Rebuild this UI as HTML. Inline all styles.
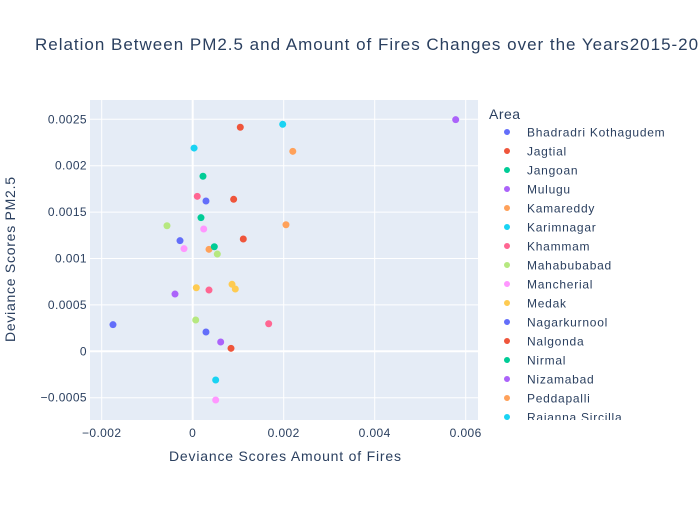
<!DOCTYPE html>
<html><head><meta charset="utf-8"><style>
body{margin:0;background:#fff;font-family:"Liberation Sans",Arial,sans-serif;}
svg text{font-family:"Liberation Sans",Arial,sans-serif;}
</style></head><body>
<svg id="chart" width="700" height="500" xmlns="http://www.w3.org/2000/svg">
<rect x="0" y="0" width="700" height="500" fill="#fff"/>
<rect x="90" y="100" width="388" height="320" fill="#e5ecf6"/>
<g id="grid"></g><g id="pts"></g><g id="ticks"></g>
<text x="35" y="50" font-size="17" fill="#2a3f5f" textLength="684" lengthAdjust="spacing">Relation Between PM2.5 and Amount of Fires Changes over the Years2015-2020</text>
<text x="169" y="461" font-size="14" fill="#2a3f5f" textLength="232" lengthAdjust="spacing">Deviance Scores Amount of Fires</text>
<text x="0" y="0" font-size="14" fill="#2a3f5f" textLength="165" lengthAdjust="spacing" transform="translate(15,342) rotate(-90)">Deviance Scores PM2.5</text>
<text x="489" y="119" font-size="14" fill="#2a3f5f" letter-spacing="0.5">Area</text>
<svg x="485" y="122" width="215" height="298"><g id="legend"></g></svg>
</svg>
<script>
const seriesNames=["Bhadradri Kothagudem","Jagtial","Jangoan","Mulugu","Kamareddy","Karimnagar","Khammam","Mahabubabad","Mancherial","Medak","Nagarkurnool","Nalgonda","Nirmal","Nizamabad","Peddapalli","Rajanna Sircilla"];
const colors=["#636efa","#EF553B","#00cc96","#ab63fa","#FFA15A","#19d3f3","#FF6692","#B6E880","#FF97FF","#FECB52"];
const xTicks=[-0.002,0,0.002,0.004,0.006];
const xTickLabels=["−0.002","0","0.002","0.004","0.006"];
const yTicks=[-0.0005,0,0.0005,0.001,0.0015,0.002,0.0025];
const yTickLabels=["−0.0005","0","0.0005","0.001","0.0015","0.002","0.0025"];
const ptX=[0.00578,0.001046,0.001978,0.00003,0.0022,0.000226,0.0001,0.000292,0.0009,0.000182,-0.000565,0.000242,0.00205,-0.000279,-0.000191,0.000358,0.000475,0.000541,0.001112,0.000079,0.000358,0.000864,0.000936,-0.000389,-0.001752,0.000066,0.00167,0.000292,0.000615,0.000842,0.000505,0.000505];
const ptY=[0.002496,0.002414,0.002446,0.00219,0.002155,0.001886,0.00167,0.00162,0.001638,0.00144,0.001353,0.001318,0.001364,0.001192,0.001106,0.001099,0.001127,0.001048,0.00121,0.000685,0.00066,0.000722,0.000671,0.000617,0.000287,0.000337,0.000297,0.000208,0.0001,0.000032,-0.000309,-0.000525];
const ptColor=[3,1,5,5,4,2,6,0,1,2,7,8,4,0,8,4,2,7,1,9,6,9,9,3,0,7,6,0,3,1,5,8];
const NS="http://www.w3.org/2000/svg";
const xs=v=>192.7+v/0.002*91;
const ys=v=>351.3-v/0.0005*46.4;
function mk(tag,attrs,parent){const e=document.createElementNS(NS,tag);for(const k in attrs)e.setAttribute(k,attrs[k]);document.getElementById(parent).appendChild(e);return e;}
xTicks.forEach((t,i)=>{
 const g=mk('line',{x1:xs(t),x2:xs(t),y1:100,y2:420,stroke:'#fff','stroke-width':t===0?2:1},'grid');
 
 
 const l=mk('text',{x:xs(t),y:437,'font-size':12,fill:'#2a3f5f','text-anchor':'middle','letter-spacing':0.4},'ticks');l.textContent=xTickLabels[i];
 
 
});
yTicks.forEach((t,i)=>{
 const g=mk('line',{x1:90,x2:478,y1:ys(t),y2:ys(t),stroke:'#fff','stroke-width':t===0?2:1},'grid');
 
 
 const l=mk('text',{x:87,y:ys(t)+4,'font-size':12,fill:'#2a3f5f','text-anchor':'end','letter-spacing':0.4},'ticks');l.textContent=yTickLabels[i];
 
 
});
ptX.forEach((v,i)=>{
 const c=mk('circle',{cx:xs(v),cy:ys(ptY[i]),r:3.5,fill:colors[ptColor[i]]},'pts');
 
 
});
seriesNames.forEach((n,i)=>{
 const y=10+i*19;
 const c=mk('circle',{cx:22,cy:y,r:3,fill:colors[i%10]},'legend');
 
 
 const t=mk('text',{x:42,y:y+4.5,'font-size':12,fill:'#2a3f5f','letter-spacing':0.75},'legend');t.textContent=n;
 
 
});
</script>
</body></html>
